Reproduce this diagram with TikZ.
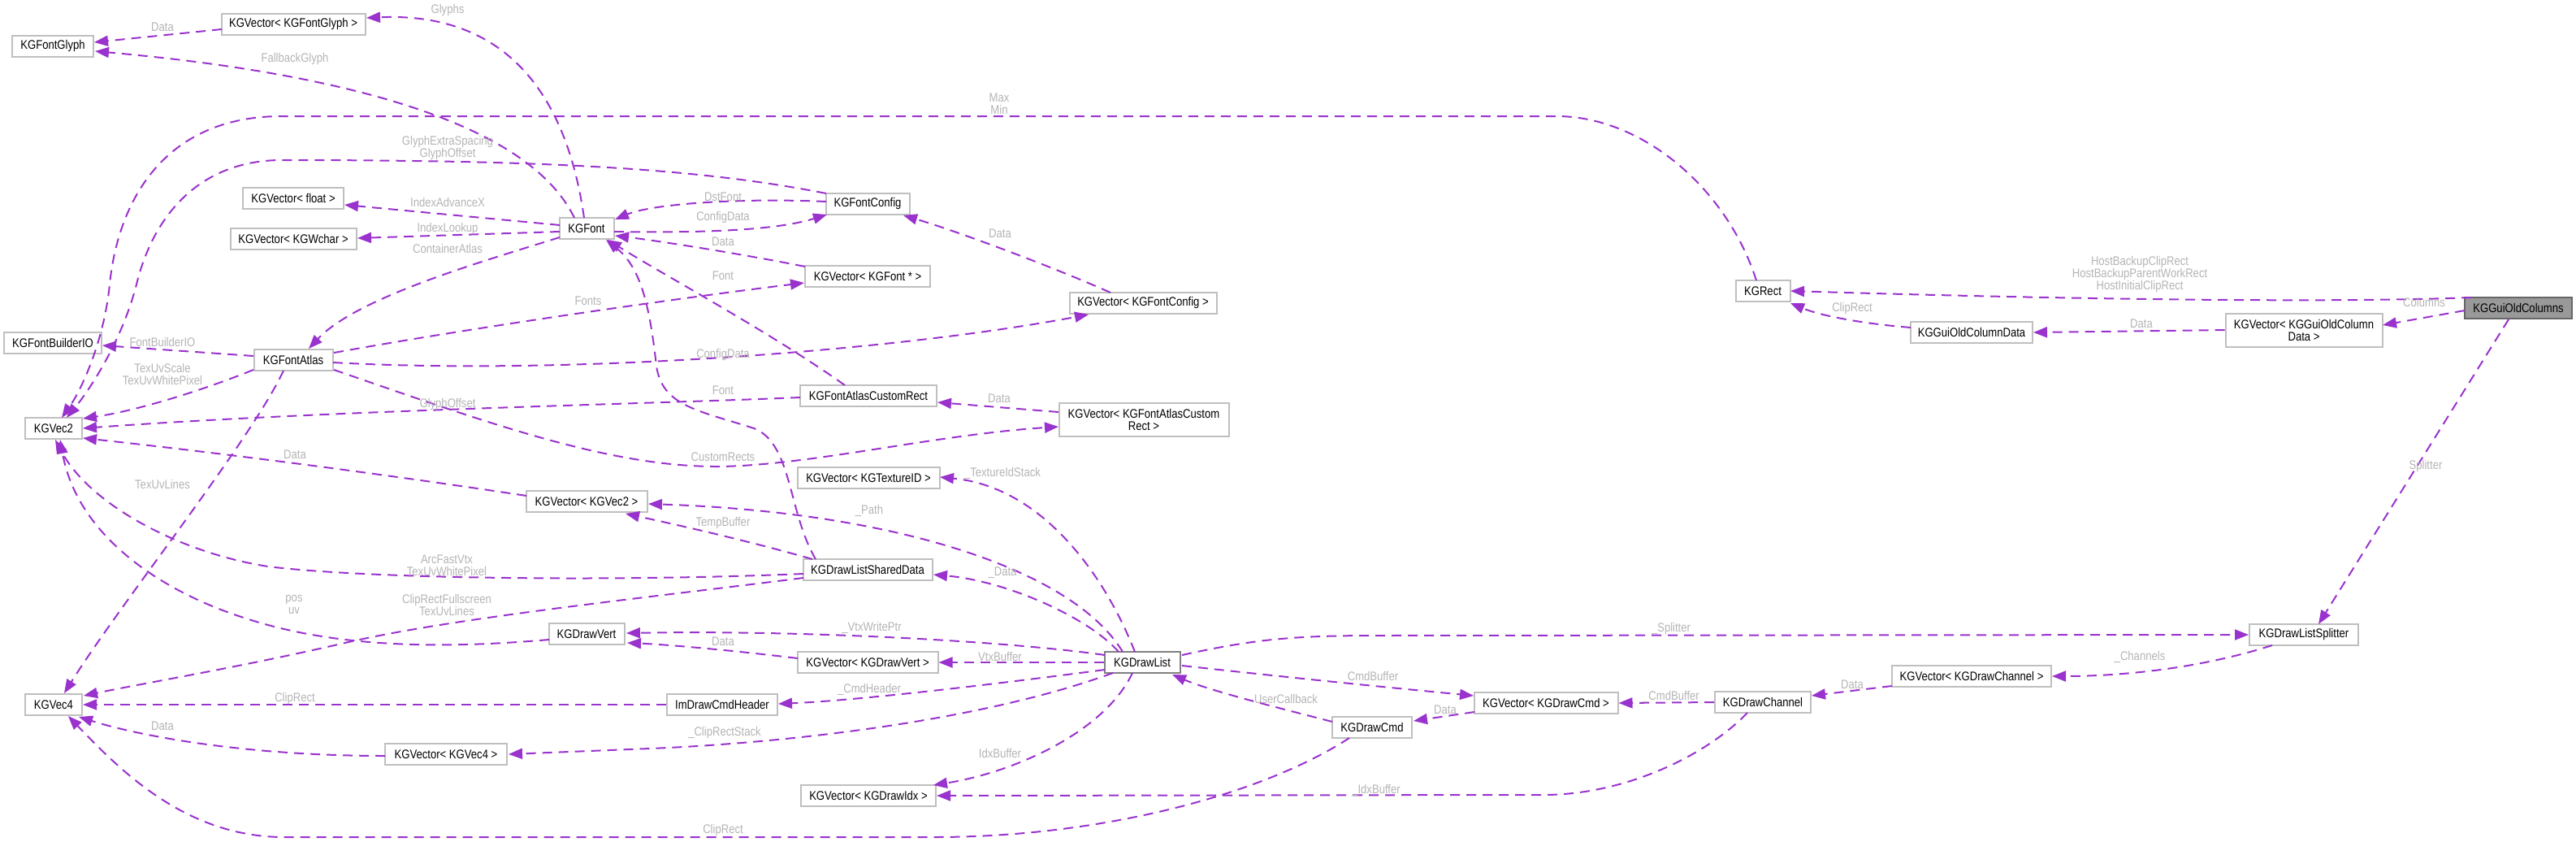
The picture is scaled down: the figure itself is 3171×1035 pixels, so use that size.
\documentclass[tikz,border=0pt]{standalone}
\usepackage{fontspec}
\setmainfont{Liberation Sans}[FakeStretch=0.85]
\usetikzlibrary{arrows.meta,calc}
\definecolor{edgec}{HTML}{9A32CD}
\definecolor{boxc}{HTML}{BFBFBF}
\definecolor{labc}{HTML}{B4B4B4}
\definecolor{hlfill}{HTML}{999999}
\definecolor{hldraw}{HTML}{666666}
\begin{document}
\begin{tikzpicture}[x=0.5pt,y=-0.5pt,
  every node/.style={font=\fontsize{7.7pt}{7.5pt}\selectfont},
  cls/.style={draw=boxc, line width=1pt, fill=white, inner sep=0pt, minimum height=13pt, align=center},
  bw/.style={minimum width=#1*0.5pt},
  two/.style={minimum height=20.5pt},
  hl/.style={fill=hlfill, draw=hldraw},
  rel/.style={draw=edgec, line width=1pt, dash pattern=on 6pt off 4pt, -{Triangle[length=8.5pt,width=6.5pt]}},
  lab/.style={text=labc, align=center, inner sep=0pt}
]
\useasboundingbox (0,0) rectangle (3171,1035);

% ---------- classes ----------
\node[cls,bw=100] (glyph) at (65,57) {KGFontGlyph};
\node[cls,bw=177] (vglyph) at (361,30) {KGVector< KGFontGlyph >};
\node[cls,bw=124] (vfloat) at (361,244) {KGVector< float >};
\node[cls,bw=155] (vwchar) at (361,294) {KGVector< KGWchar >};
\node[cls,bw=67] (font) at (722,281) {KGFont};
\node[cls,bw=103] (fconfig) at (1068,251) {KGFontConfig};
\node[cls,bw=154] (vfontp) at (1068,340) {KGVector< KGFont * >};
\node[cls,bw=120] (builder) at (65,422) {KGFontBuilderIO};
\node[cls,bw=97] (atlas) at (361,443) {KGFontAtlas};
\node[cls,bw=70] (vec2) at (66,527) {KGVec2};
\node[cls,bw=149] (vvec2) at (722,617) {KGVector< KGVec2 >};
\node[cls,bw=181] (vfconfig) at (1407,373) {KGVector< KGFontConfig >};
\node[cls,bw=168] (customrect) at (1069,487) {KGFontAtlasCustomRect};
\node[cls,bw=209,two] (vcustomrect) at (1408,516) {KGVector< KGFontAtlasCustom\\Rect >};
\node[cls,bw=175] (vtexid) at (1069,588) {KGVector< KGTextureID >};
\node[cls,bw=159] (shared) at (1068,701) {KGDrawListSharedData};
\node[cls,bw=70] (vec4) at (66,867) {KGVec4};
\node[cls,bw=93] (drawvert) at (722,780) {KGDrawVert};
\node[cls,bw=150] (vvec4) at (549,928) {KGVector< KGVec4 >};
\node[cls,bw=173] (vdrawvert) at (1068,815) {KGVector< KGDrawVert >};
\node[cls,bw=136] (cmdheader) at (889,867) {ImDrawCmdHeader};
\node[cls,bw=93,draw=gray] (drawlist) at (1406,815) {KGDrawList};
\node[cls,bw=166] (vdrawidx) at (1069,979) {KGVector< KGDrawIdx >};
\node[cls,bw=177] (vdrawcmd) at (1903,865) {KGVector< KGDrawCmd >};
\node[cls,bw=98] (drawcmd) at (1689,895) {KGDrawCmd};
\node[cls,bw=118] (channel) at (2170,864) {KGDrawChannel};
\node[cls,bw=196] (vchannel) at (2427,832) {KGVector< KGDrawChannel >};
\node[cls,bw=134] (splitter) at (2836,781) {KGDrawListSplitter};
\node[cls,bw=67] (rect) at (2170,358) {KGRect};
\node[cls,bw=150] (coldata) at (2427,409) {KGGuiOldColumnData};
\node[cls,bw=193,two] (vcol) at (2836,406) {KGVector< KGGuiOldColumn\\Data >};
\node[cls,hl,bw=132] (columns) at (3100,379) {KGGuiOldColumns};

% ---------- relations ----------
\draw[rel] ($(vglyph)+(-88,6)$) -- ($(glyph)+(51,-5)$);
\draw[rel] ($(font)+(-3,-13)$) .. controls (695,100) and (610,15) .. ($(vglyph)+(90,-8)$);
\draw[rel] ($(font)+(-15,-13)$) .. controls (650,150) and (420,90) .. ($(glyph)+(52,6)$);
\draw[rel] ($(font)+(-33,-4)$) -- ($(vfloat)+(63,8)$);
\draw[rel] ($(font)+(-33,4)$) -- ($(vwchar)+(79,-1)$);
\draw[rel] ($(font)+(-33,11)$) .. controls (600,320) and (440,365) .. ($(atlas)+(19,-14)$);
\draw[rel] ($(font)+(34,4)$) .. controls (880,287) and (960,282) .. ($(fconfig)+(-50,13)$);
\draw[rel] ($(fconfig)+(-51,-3)$) .. controls (900,243) and (800,252) .. ($(font)+(35,-11)$);
\draw[rel] ($(fconfig)+(-51,-13)$) .. controls (850,205) and (650,197) .. (347,197)
   .. controls (250,197) and (190,260) .. (168,350) .. controls (150,420) and (110,480) .. ($(vec2)+(16,-13)$);
\draw[rel] ($(rect)+(-8,-13)$) .. controls (2125,230) and (2020,143) .. (1916,143) -- (347,143)
   .. controls (200,143) and (145,250) .. (135,350) .. controls (128,420) and (100,480) .. ($(vec2)+(10,-13)$);
\draw[rel] ($(atlas)+(-49,-5)$) -- ($(builder)+(61,3)$);
\draw[rel] ($(atlas)+(-49,12)$) .. controls (250,480) and (170,505) .. ($(vec2)+(36,-12)$);
\draw[rel] ($(atlas)+(-12,13)$) .. controls (310,540) and (150,740) .. ($(vec4)+(13,-14)$);
\draw[rel] ($(atlas)+(50,-9)$) .. controls (600,400) and (850,365) .. ($(vfontp)+(-78,8)$);
\draw[rel] ($(vfontp)+(-77,-12)$) .. controls (900,310) and (800,295) .. ($(font)+(35,9)$);
\draw[rel] ($(customrect)+(-29,-13)$) .. controls (950,410) and (820,340) .. ($(font)+(26,14)$);
\draw[rel] ($(atlas)+(49,3)$) .. controls (700,462) and (1100,432) .. ($(vfconfig)+(-67,14)$);
\draw[rel] ($(vfconfig)+(-40,-13)$) .. controls (1300,330) and (1180,285) .. ($(fconfig)+(44,14)$);
\draw[rel] ($(atlas)+(50,12)$) .. controls (600,520) and (750,575) .. (887,574)
   .. controls (1000,572) and (1150,535) .. ($(vcustomrect)+(-105,9)$);
\draw[rel] ($(vvec2)+(-74,-7)$) .. controls (450,580) and (250,555) .. ($(vec2)+(36,12)$);
\draw[rel] ($(customrect)+(-84,2)$) .. controls (800,497) and (400,505) .. ($(vec2)+(36,0)$);
\draw[rel] ($(vcustomrect)+(-105,-9)$) -- ($(customrect)+(85,8)$);
\draw[rel] ($(shared)+(-79,5)$) .. controls (750,716) and (450,712) .. (330,697)
   .. controls (220,680) and (110,620) .. ($(vec2)+(2,14)$);
\draw[rel] ($(shared)+(-79,10)$) .. controls (800,735) and (560,760) .. (429,790)
   .. controls (300,820) and (180,840) .. ($(vec4)+(37,-11)$);
\draw[rel] ($(shared)+(-64,-13)$) .. controls (970,630) and (975,545) .. (928,527)
   .. controls (860,505) and (815,500) .. (808,450) .. controls (800,380) and (790,330) .. ($(font)+(24,14)$);
\draw[rel] ($(shared)+(-68,-13)$) .. controls (920,665) and (830,645) .. ($(vvec2)+(48,15)$);
\draw[rel] ($(drawvert)+(-46,7)$) .. controls (560,797) and (420,800) .. (300,760)
   .. controls (200,728) and (95,660) .. ($(vec2)+(8,14)$);
\draw[rel] ($(drawlist)+(-24,-13)$) .. controls (1320,700) and (1100,630) .. ($(vvec2)+(76,3)$);
\draw[rel] ($(drawlist)+(-9,-13)$) .. controls (1365,720) and (1290,600) .. ($(vtexid)+(88,-1)$);
\draw[rel] ($(drawlist)+(-29,-13)$) .. controls (1340,760) and (1240,715) .. ($(shared)+(81,6)$);
\draw[rel] ($(drawlist)+(-46,-9)$) .. controls (1250,790) and (1000,775) .. ($(drawvert)+(49,-1)$);
\draw[rel] (drawlist.west) -- (vdrawvert.east);
\draw[rel] ($(vdrawvert)+(-86,-5)$) .. controls (900,800) and (820,793) .. ($(drawvert)+(50,11)$);
\draw[rel] ($(drawlist)+(-46,9)$) .. controls (1200,845) and (1050,862) .. ($(cmdheader)+(69,-1)$);
\draw[rel] (cmdheader.west) -- (vec4.east);
\draw[rel] ($(drawlist)+(-36,13)$) .. controls (1200,890) and (950,915) .. (800,921) -- ($(vvec4)+(77,0)$);
\draw[rel] ($(vvec4)+(-75,2)$) .. controls (300,930) and (170,905) .. ($(vec4)+(31,15)$);
\draw[rel] ($(drawlist)+(-12,13)$) .. controls (1360,900) and (1250,950) .. ($(vdrawidx)+(80,-13)$);
\draw[rel] ($(drawlist)+(49,-9)$) .. controls (1550,785) and (1600,782) .. (1700,782) -- (splitter.west);
\draw[rel] ($(drawlist)+(49,4)$) .. controls (1600,835) and (1700,845) .. ($(vdrawcmd)+(-89,-9)$);
\draw[rel] ($(drawcmd)+(-49,-7)$) .. controls (1570,870) and (1490,850) .. ($(drawlist)+(37,15)$);
\draw[rel] ($(drawcmd)+(-28,13)$) .. controls (1550,980) and (1350,1030) .. (1150,1030) -- (350,1030)
   .. controls (230,1030) and (150,950) .. ($(vec4)+(18,14)$);
\draw[rel] ($(vdrawcmd)+(-88,11)$) -- ($(drawcmd)+(51,-8)$);
\draw[rel] (channel.west) -- (vdrawcmd.east);
\draw[rel] ($(channel)+(-19,13)$) .. controls (2100,930) and (2000,978) .. (1900,978) -- (vdrawidx.east);
\draw[rel] ($(vchannel)+(-98,12)$) -- ($(channel)+(60,-8)$);
\draw[rel] ($(splitter)+(-39,13)$) .. controls (2700,825) and (2600,832) .. ($(vchannel)+(99,0)$);
\draw[rel] ($(columns)+(-12,14)$) -- ($(splitter)+(18,-13)$);
\draw[rel] ($(columns)+(-66,3)$) -- ($(vcol)+(97,-6)$);
\draw[rel] (vcol.west) -- (coldata.east);
\draw[rel] ($(coldata)+(-75,-6)$) .. controls (2290,398) and (2240,388) .. ($(rect)+(34,15)$);
\draw[rel] ($(columns)+(-58,-13)$) .. controls (2900,372) and (2600,370) .. ($(rect)+(34,0)$);

% ---------- labels ----------
\node[lab] (l1) at (200,33) {Data};
\node[lab] (l2) at (551,13) {Glyphs};
\node[lab] (l3) at (363,73) {FallbackGlyph};
\node[lab] (l4) at (551,249) {IndexAdvanceX};
\node[lab] (l5) at (551,282) {IndexLookup};
\node[lab] (l6) at (551,306) {ContainerAtlas};
\node[lab] (l7) at (890,268) {ConfigData};
\node[lab] (l8) at (890,242) {DstFont};
\node[lab] (l9) at (551,182) {GlyphExtraSpacing\\GlyphOffset};
\node[lab] (l10) at (1230,128) {Max\\Min};
\node[lab] (l11) at (200,421) {FontBuilderIO};
\node[lab] (l12) at (200,460) {TexUvScale\\TexUvWhitePixel};
\node[lab] (l13) at (200,596) {TexUvLines};
\node[lab] (l14) at (724,370) {Fonts};
\node[lab] (l15) at (890,297) {Data};
\node[lab] (l16) at (890,339) {Font};
\node[lab] (l17) at (890,437) {ConfigData};
\node[lab] (l18) at (1231,287) {Data};
\node[lab] (l19) at (890,562) {CustomRects};
\node[lab] (l20) at (363,559) {Data};
\node[lab] (l21) at (551,498) {GlyphOffset};
\node[lab] (l22) at (1230,490) {Data};
\node[lab] (l23) at (550,696) {ArcFastVtx\\TexUvWhitePixel};
\node[lab] (l24) at (550,744) {ClipRectFullscreen\\TexUvLines};
\node[lab] (l25) at (890,480) {Font};
\node[lab] (l26) at (890,644) {TempBuffer};
\node[lab] (l27) at (362,744) {pos\\uv};
\node[lab] (l28) at (1070,628) {\_Path};
\node[lab] (l29) at (1234,582) {\_TextureIdStack};
\node[lab] (l30) at (1234,705) {\_Data};
\node[lab] (l31) at (1073,772) {\_VtxWritePtr};
\node[lab] (l32) at (1231,808) {VtxBuffer};
\node[lab] (l33) at (890,789) {Data};
\node[lab] (l34) at (1070,848) {\_CmdHeader};
\node[lab] (l35) at (363,860) {ClipRect};
\node[lab] (l36) at (892,902) {\_ClipRectStack};
\node[lab] (l37) at (200,893) {Data};
\node[lab] (l38) at (1231,927) {IdxBuffer};
\node[lab] (l39) at (2057,774) {\_Splitter};
\node[lab] (l40) at (1690,832) {CmdBuffer};
\node[lab] (l41) at (1583,860) {UserCallback};
\node[lab] (l42) at (890,1022) {ClipRect};
\node[lab] (l43) at (1779,873) {Data};
\node[lab] (l44) at (2057,857) {\_CmdBuffer};
\node[lab] (l45) at (1694,972) {\_IdxBuffer};
\node[lab] (l46) at (2280,842) {Data};
\node[lab] (l47) at (2634,808) {\_Channels};
\node[lab] (l48) at (2986,574) {Splitter};
\node[lab] (l49) at (2984,372) {Columns};
\node[lab] (l50) at (2636,398) {Data};
\node[lab] (l51) at (2280,380) {ClipRect};
\node[lab] (l52) at (2634,338) {HostBackupClipRect\\HostBackupParentWorkRect\\HostInitialClipRect};
\end{tikzpicture}
\end{document}
